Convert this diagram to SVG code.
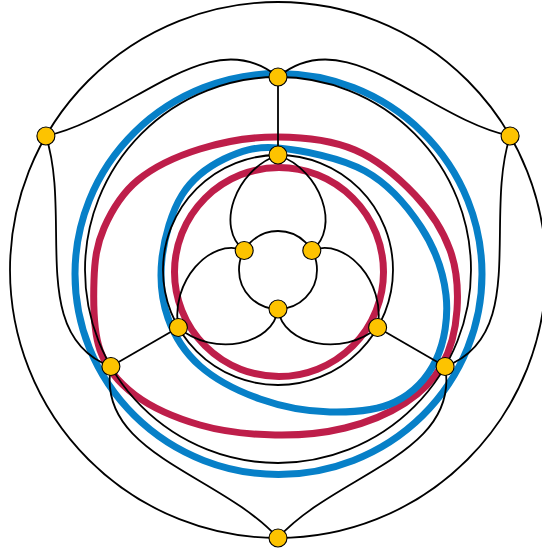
<svg xmlns="http://www.w3.org/2000/svg" width="542" height="552" viewBox="0 0 542 552">
<style>
.edge{fill:none;stroke:#000;stroke-width:1.8}
.red{fill:none;stroke:#be1e4a;stroke-width:7}
.blue{fill:none;stroke:#0780c8;stroke-width:7}
.node{fill:#fdc300;stroke:#000;stroke-width:1.1}
</style>
<rect width="542" height="552" fill="#fff"/>
<g id="highlights">
<ellipse class="blue" cx="278.5" cy="274" rx="203.5" ry="200.5"/>
<path class="red" d="M278,137 C303.8,137.2 332.2,140.3 355,150 C377.8,159.7 399.2,178.3 415,195 C430.8,211.7 443,230.8 450,250 C457,269.2 458.3,290.8 457,310 C455.7,329.2 450.7,349.5 442,365 C433.3,380.5 421.2,392.5 405,403 C388.8,413.5 366.7,422.7 345,428 C323.3,433.3 299.2,435.5 275,435 C250.8,434.5 223.3,431.7 200,425 C176.7,418.3 151.7,407.5 135,395 C118.3,382.5 106.8,369.2 100,350 C93.2,330.8 93.3,300.3 94,280 C94.7,259.7 96.7,244.7 104,228 C111.3,211.3 122,193.2 138,180 C154,166.8 176.7,156.2 200,149 C223.3,141.8 252.2,136.8 278,137 Z"/>
<path class="blue" d="M278,148 C301.5,150 341.2,157.8 365,171 C388.8,184.2 407.5,206.3 421,227 C434.5,247.7 443.5,272.8 446,295 C448.5,317.2 444.5,342.2 436,360 C427.5,377.8 412.7,393.3 395,402 C377.3,410.7 352.5,412.5 330,412 C307.5,411.5 281.7,406.7 260,399 C238.3,391.3 215.3,379.5 200,366 C184.7,352.5 174.3,336 168,318 C161.7,300 159.7,278.5 162,258 C164.3,237.5 171.7,211.5 182,195 C192.3,178.5 208,166.8 224,159 C240,151.2 254.5,146 278,148 Z"/>
<circle class="red" cx="279" cy="272" r="104.5"/>
</g>
<g id="connectors">
<circle class="edge" cx="278" cy="270" r="268"/>
<circle class="edge" cx="278" cy="270" r="193"/>
<circle class="edge" cx="278" cy="270" r="115"/>
<circle class="edge" cx="278" cy="270" r="39"/>
<path class="edge" d="M278,77 L278,155"/>
<path class="edge" d="M278,77 L278,155" transform="rotate(120 278 270)"/>
<path class="edge" d="M278,77 L278,155" transform="rotate(240 278 270)"/>
<path class="edge" d="M45.9,136 C130,118 210,20 278,77"/>
<path class="edge" d="M510.1,136 C426,118 346,20 278,77"/>
<path class="edge" d="M45.9,136 C130,118 210,20 278,77" transform="rotate(120 278 270)"/>
<path class="edge" d="M510.1,136 C426,118 346,20 278,77" transform="rotate(120 278 270)"/>
<path class="edge" d="M45.9,136 C130,118 210,20 278,77" transform="rotate(240 278 270)"/>
<path class="edge" d="M510.1,136 C426,118 346,20 278,77" transform="rotate(240 278 270)"/>
<path class="edge" d="M278,155 C235,170 215,228 244.2,250.5"/>
<path class="edge" d="M278,155 C321,170 341,228 311.8,250.5"/>
<path class="edge" d="M278,155 C235,170 215,228 244.2,250.5" transform="rotate(120 278 270)"/>
<path class="edge" d="M278,155 C321,170 341,228 311.8,250.5" transform="rotate(120 278 270)"/>
<path class="edge" d="M278,155 C235,170 215,228 244.2,250.5" transform="rotate(240 278 270)"/>
<path class="edge" d="M278,155 C321,170 341,228 311.8,250.5" transform="rotate(240 278 270)"/>
</g>
<g id="n-A"><circle class="node" cx="278" cy="77" r="9"/></g>
<g id="n-B"><circle class="node" cx="278" cy="155" r="9"/></g>
<g id="n-L"><circle class="node" cx="45.9" cy="136" r="9"/></g>
<g id="n-R"><circle class="node" cx="510.1" cy="136" r="9"/></g>
<g id="n-Bo"><circle class="node" cx="278" cy="538" r="9"/></g>
<g id="n-P"><circle class="node" cx="110.9" cy="366.5" r="9"/></g>
<g id="n-Q"><circle class="node" cx="445.1" cy="366.5" r="9"/></g>
<g id="n-C"><circle class="node" cx="178.4" cy="327.5" r="9"/></g>
<g id="n-D"><circle class="node" cx="377.6" cy="327.5" r="9"/></g>
<g id="n-E"><circle class="node" cx="244.2" cy="250.5" r="9"/></g>
<g id="n-F"><circle class="node" cx="311.8" cy="250.5" r="9"/></g>
<g id="n-G"><circle class="node" cx="278" cy="309" r="9"/></g>
</svg>
